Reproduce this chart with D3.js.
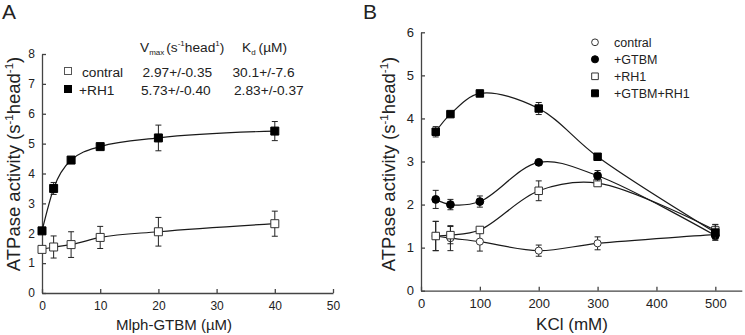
<!DOCTYPE html>
<html>
<head>
<meta charset="utf-8">
<script src="https://cdn.jsdelivr.net/npm/d3@7"></script>
<style>
  body { margin: 0; background: #fff; }
  svg { display: block; font-family: Arial, "Liberation Sans", sans-serif; }
  .axis path, .axis line { stroke: #444; stroke-width: 1.3; }
  .axis text { fill: #222; }
</style>
</head>
<body>
<svg width="745" height="335"></svg>
<script>
// Panel A: ATPase vs Mlph-GTBM concentration
const gtbmConc = [0, 2, 5, 10, 20, 40];
const aControl = [1.46, 1.54, 1.62, 1.86, 2.05, 2.32];
const aControlErr = [0.04, 0.37, 0.43, 0.37, 0.48, 0.42];
const aRH1 = [2.08, 3.5, 4.45, 4.9, 5.19, 5.42];
const aRH1Err = [0.05, 0.2, 0.08, 0.1, 0.43, 0.32];
const aXTicks = [0, 10, 20, 30, 40, 50];
const aYTicks = [0, 1, 2, 3, 4, 5, 6, 7, 8];

// Panel B: ATPase vs KCl
const kcl = [25, 50, 100, 200, 300, 500];
const bControl = [1.27, 1.22, 1.14, 0.93, 1.1, 1.3];
const bControlErr = [0.34, 0.29, 0.22, 0.13, 0.15, 0.08];
const bGTBM = [2.12, 2.0, 2.07, 2.98, 2.67, 1.28];
const bGTBMErr = [0.21, 0.12, 0.13, 0.02, 0.12, 0.1];
const bRH1 = [1.27, 1.29, 1.41, 2.32, 2.5, 1.4];
const bRH1Err = [0.34, 0.2, 0.06, 0.23, 0.07, 0.14];
const bBoth = [3.69, 4.1, 4.58, 4.23, 3.11, 1.35];
const bBothErr = [0.12, 0.04, 0.04, 0.14, 0.03, 0.18];
const bXTicks = [0, 100, 200, 300, 400, 500];
const bYTicks = [0, 1, 2, 3, 4, 5, 6];

const svg = d3.select("svg");

// scales
const xA = d3.scaleLinear().domain([0, 50]).range([42, 333]);
const yA = d3.scaleLinear().domain([0, 8]).range([293, 54]);
const xB = d3.scaleLinear().domain([0, 545]).range([421, 741.8]);
const yB = d3.scaleLinear().domain([0, 6]).range([290.7, 32.3]);

function drawAxes(x, y, xt, yt, fs) {
    svg.append("g").attr("class", "axis")
        .attr("transform", `translate(0,${y(0)})`)
        .call(d3.axisBottom(x).tickValues(xt).tickFormat(d3.format("d"))
            .tickSizeInner(-4).tickSizeOuter(0).tickPadding(8))
        .call(g => g.selectAll("text").attr("font-size", fs).attr("font-family", null));
    svg.append("g").attr("class", "axis")
        .attr("transform", `translate(${x(0)},0)`)
        .call(d3.axisLeft(y).tickValues(yt).tickFormat(d3.format("d"))
            .tickSizeInner(-4).tickSizeOuter(0).tickPadding(7))
        .call(g => g.selectAll("text").attr("font-size", fs).attr("font-family", null));
}

function yTitle(cx, cy, fs) {
    const t = svg.append("text")
        .attr("transform", `translate(${cx},${cy}) rotate(-90)`)
        .attr("text-anchor", "middle")
        .attr("font-size", fs).attr("fill", "#222");
    t.append("tspan").text("ATPase activity (s");
    t.append("tspan").text("-1").attr("font-size", fs * 0.62).attr("dy", -fs * 0.4);
    t.append("tspan").text("head").attr("dy", fs * 0.4);
    t.append("tspan").text("-1").attr("font-size", fs * 0.62).attr("dy", -fs * 0.4);
    t.append("tspan").text(")").attr("dy", fs * 0.4);
}

function series(x, y, xs, ys, es, curve, marker, filled, size) {
    const pts = xs.map((v, i) => ({ x: v, y: ys[i], e: es[i] }));
    const g = svg.append("g");
    // error bars
    pts.forEach(p => {
        const cx = x(p.x);
        g.append("line").attr("x1", cx).attr("x2", cx)
            .attr("y1", y(p.y - p.e)).attr("y2", y(p.y + p.e))
            .attr("stroke", "#222").attr("stroke-width", 1);
        [p.y - p.e, p.y + p.e].forEach(v => {
            g.append("line").attr("x1", cx - 3).attr("x2", cx + 3)
                .attr("y1", y(v)).attr("y2", y(v))
                .attr("stroke", "#222").attr("stroke-width", 1);
        });
    });
    // fitted/smooth curve
    g.append("path")
        .attr("d", d3.line().x(d => x(d.x)).y(d => y(d.y)).curve(curve)(pts))
        .attr("fill", "none").attr("stroke", "#1a1a1a").attr("stroke-width", 1.2);
    // markers
    const sym = d3.symbol().type(marker).size(size);
    g.selectAll(".m").data(pts).enter().append("path")
        .attr("d", sym)
        .attr("transform", d => `translate(${x(d.x)},${y(d.y)})`)
        .attr("fill", filled ? "#000" : "#fff")
        .attr("stroke", filled ? "#000" : "#333")
        .attr("stroke-width", 1);
}

// ---------- Panel A ----------
drawAxes(xA, yA, aXTicks, aYTicks, 12);
series(xA, yA, gtbmConc, aControl, aControlErr, d3.curveMonotoneX, d3.symbolSquare, false, 64);
series(xA, yA, gtbmConc, aRH1, aRH1Err, d3.curveMonotoneX, d3.symbolSquare, true, 64);

svg.append("text").attr("x", 2).attr("y", 19).attr("font-size", 21).attr("fill", "#222").text("A");
yTitle(20, 164, 18.5);
svg.append("text").attr("x", 174).attr("y", 330).attr("text-anchor", "middle")
    .attr("font-size", 15).attr("fill", "#222").text("Mlph-GTBM (\u00b5M)");

// legend A
const hv = svg.append("text").attr("x", 140).attr("y", 52).attr("font-size", 13.7).attr("fill", "#222");
hv.append("tspan").text("V");
hv.append("tspan").text("max").attr("font-size", 8).attr("dy", 3);
hv.append("tspan").text("(s").attr("dy", -3).attr("dx", 2);
hv.append("tspan").text("-1").attr("font-size", 8).attr("dy", -6);
hv.append("tspan").text("head").attr("dy", 6);
hv.append("tspan").text("1").attr("font-size", 8).attr("dy", -6);
hv.append("tspan").text(")").attr("dy", 6);
const hk = svg.append("text").attr("x", 242).attr("y", 52).attr("font-size", 13.7).attr("fill", "#222");
hk.append("tspan").text("K");
hk.append("tspan").text("d").attr("font-size", 8).attr("dy", 3);
hk.append("tspan").text("(\u00b5M)").attr("dy", -3).attr("dx", 3);

const legA = [
    { name: "contral", v: "2.97+/-0.35", k: "30.1+/-7.6", filled: false, y: 71, tx: 82, vx: 142.5, kx: 232.5 },
    { name: "+RH1", v: "5.73+/-0.40", k: "2.83+/-0.37", filled: true, y: 89, tx: 79, vx: 141, kx: 234 }
];
legA.forEach(r => {
    svg.append("rect").attr("x", 64.5).attr("y", r.y - 3.5).attr("width", 7).attr("height", 7)
        .attr("fill", r.filled ? "#000" : "#fff").attr("stroke", r.filled ? "#000" : "#555");
    [[r.tx, r.name], [r.vx, r.v], [r.kx, r.k]].forEach(([tx, s]) => {
        svg.append("text").attr("x", tx).attr("y", r.y + 5.5).attr("font-size", 13.7)
            .attr("fill", "#222").text(s);
    });
});

// ---------- Panel B ----------
drawAxes(xB, yB, bXTicks, bYTicks, 13);
const cr = d3.curveCatmullRom.alpha(0.5);
series(xB, yB, kcl, bControl, bControlErr, cr, d3.symbolCircle, false, 40);
series(xB, yB, kcl, bRH1, bRH1Err, cr, d3.symbolSquare, false, 56);
series(xB, yB, kcl, bGTBM, bGTBMErr, cr, d3.symbolCircle, true, 48);
series(xB, yB, kcl, bBoth, bBothErr, cr, d3.symbolSquare, true, 56);

svg.append("text").attr("x", 363).attr("y", 19).attr("font-size", 21).attr("fill", "#222").text("B");
yTitle(395, 164, 18.5);
svg.append("text").attr("x", 572).attr("y", 330).attr("text-anchor", "middle")
    .attr("font-size", 17).attr("fill", "#222").text("KCl (mM)");

const legB = [
    { name: "contral", marker: d3.symbolCircle, filled: false, size: 36 },
    { name: "+GTBM", marker: d3.symbolCircle, filled: true, size: 40 },
    { name: "+RH1", marker: d3.symbolSquare, filled: false, size: 44 },
    { name: "+GTBM+RH1", marker: d3.symbolSquare, filled: true, size: 48 }
];
legB.forEach((r, i) => {
    const ly = 42.3 + i * 17;
    svg.append("path").attr("d", d3.symbol().type(r.marker).size(r.size))
        .attr("transform", `translate(595,${ly})`)
        .attr("fill", r.filled ? "#000" : "#fff").attr("stroke", r.filled ? "#000" : "#333");
    svg.append("text").attr("x", 614).attr("y", ly + 4.5).attr("font-size", 12.5)
        .attr("fill", "#222").text(r.name);
});
</script>
</body>
</html>
